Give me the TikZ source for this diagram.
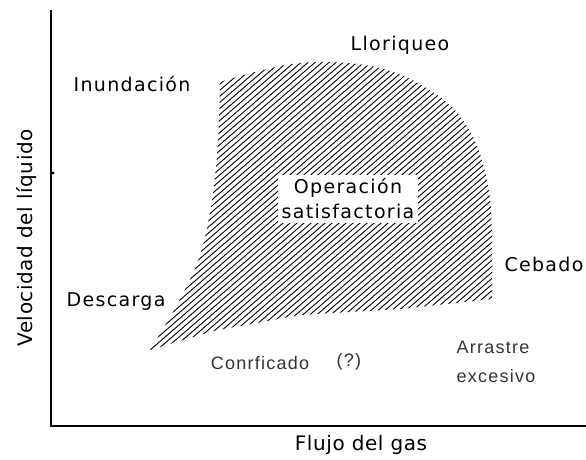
\documentclass[tikz,border=0pt]{standalone}
\usepackage{fontspec}
\setmainfont{DejaVu Sans}
\newfontfamily\graysans[LetterSpace=7]{Liberation Sans}
\newfontfamily\mainsans[LetterSpace=7]{DejaVu Sans}
\newfontfamily\axissans[LetterSpace=3]{DejaVu Sans}
\begin{document}
\begin{tikzpicture}[x=1pt,y=-1pt,
  lbl/.style={font=\mainsans\fontsize{19}{25}\selectfont, inner sep=1pt},
  axlbl/.style={font=\axissans\fontsize{20}{24}\selectfont, inner sep=1pt},
  lbls/.style={font=\graysans\fontsize{18}{29}\selectfont, text=black!80, inner sep=1pt},
  axis/.style={line width=1.6pt},
  hatch/.style={line width=0.9pt}]
\useasboundingbox (0,0) rectangle (586,460);
% axes
\coordinate (top) at (51,10);
\coordinate (origin) at (51,426);
\coordinate (xend) at (586,426);
\draw[axis] (top) -- (origin) -- (xend);
\fill (53,173) circle (1.6);
% hatched region
\begin{scope}
\clip (220,82) -- plot[smooth, tension=0.6] coordinates {(220,82) (300,63) (380,68) (440,97) (472,135) (488,185) (492,235) (492,299)}
  -- (400,309) -- (300,315) -- (213,331) -- (150,350)
  -- plot[smooth, tension=0.6] coordinates {(150,350) (178,303) (200,255) (212,200) (218,140) (220,82)} -- cycle;
\foreach \i in {-400,-393,...,560} \draw[hatch] (\i,420) -- ++(440,-380);
\end{scope}
% labels
\node[lbl, fill=white, align=center, inner sep=4pt] (op) at (348,199) {Operación\\satisfactoria};
\node[lbl] (llor) at (400,45) {Lloriqueo};
\node[lbl] (inun) at (132,84) {Inundación};
\node[lbl] (desc) at (116,302) {Descarga};
\node[lbl] (ceb) at (544,264) {Cebado};
\node[axlbl, rotate=90] (vel) at (27,238) {Velocidad del líquido};
\node[lbls] (conr) at (260,363) {Conrficado};
\node[lbls] (q) at (349,362) {(?)};
\node[lbls, align=left] (arr) at (496,362) {Arrastre\\excesivo};
\node[axlbl] (flujo) at (361,445) {Flujo del gas};
\end{tikzpicture}
\end{document}
